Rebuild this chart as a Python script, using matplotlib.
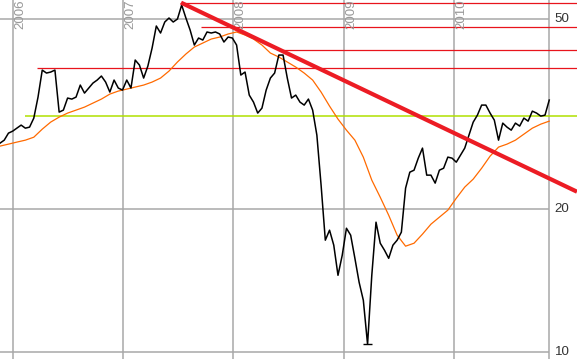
import numpy as np
import pandas as pd
import matplotlib
matplotlib.use("Agg")
import matplotlib.pyplot as plt

plt.rcParams['font.family'] = ['Liberation Sans', 'DejaVu Sans']

# closing price, sampled every 14 days
price_start = "2005-11-19"
price = [27.44, 27.84, 28.80, 29.08, 29.50, 29.94, 29.50, 29.65, 30.97, 34.28,
         39.06, 38.50, 38.69, 39.06, 31.88, 32.19, 34.12, 33.95, 34.28, 36.33,
         34.95, 35.81, 36.68, 37.22, 37.95, 36.86, 35.12, 37.22, 35.81, 35.46,
         37.22, 35.81, 41.00, 40.02, 37.58, 39.83, 43.45, 48.33, 46.72, 49.27,
         50.23, 49.27, 49.99, 53.49, 50.23, 47.40, 44.08, 45.60, 45.16, 46.95,
         46.72, 46.95, 46.50, 44.73, 45.82, 45.60, 44.08, 38.13, 38.69, 34.61,
         33.46, 31.73, 32.50, 35.46, 37.58, 38.50, 42.00, 42.00, 37.58, 34.12,
         34.61, 33.46, 32.98, 33.95, 32.19, 28.52, 22.40, 17.17, 18.02, 16.76,
         14.49, 15.96, 18.19, 17.59, 15.73, 14.01, 12.84, 10.38, 14.49, 18.73,
         16.92, 16.36, 15.73, 16.76, 17.17, 17.85, 22.08, 23.85, 24.08, 25.52,
         26.79, 23.51, 23.51, 22.62, 24.08, 24.31, 25.65, 25.52, 25.03, 25.89,
         26.79, 28.52, 30.37, 31.42, 32.98, 32.98, 31.73, 30.67, 27.84, 30.23,
         29.65, 29.22, 30.23, 29.80, 30.97, 30.52, 32.03, 31.73, 31.27, 31.42,
         33.79]

# moving average, sampled every 28 days
ma = [27.05, 27.31, 27.58, 27.84, 28.24, 29.36, 30.38, 31.12, 31.73, 32.19,
      32.66, 33.30, 33.95, 34.78, 35.29, 35.63, 35.98, 36.33, 36.86, 37.58,
      38.87, 40.61, 42.21, 43.66, 44.51, 45.38, 45.82, 46.50, 46.95, 46.27,
      45.38, 44.08, 42.41, 41.60, 40.61, 39.63, 38.50, 37.22, 35.12, 32.82,
      30.82, 29.22, 27.84, 25.64, 22.95, 21.13, 19.37, 17.59, 16.68, 16.92,
      17.68, 18.55, 19.19, 19.85, 21.03, 22.19, 23.06, 24.31, 25.77, 26.92,
      27.31, 27.84, 28.66, 29.50, 30.08, 30.52]

# resistance levels (value, start date)
res_levels = [54.1, 48.1, 43.0, 39.5]
res_starts = ["2007-07-08", "2007-09-16", "2008-05-31", "2006-03-22"]
support_level = 31.3
support_start = "2006-02-10"

# downtrend line through the 2007 top
trend_dates = ["2007-07-12", "2011-02-13"]
trend_vals = [54.1, 21.7]

years = [2006, 2007, 2008, 2009, 2010]
y_ticks = [50, 20, 10]

price_dates = pd.date_range(price_start, periods=len(price), freq="14D")
ma_dates = pd.date_range(price_start, periods=len(ma), freq="28D")
x_end = pd.Timestamp("2010-11-13")
x_right = pd.Timestamp("2011-02-13")

fig = plt.figure(figsize=(5.77, 3.59), dpi=100)
ax = fig.add_axes([0, 0, 1, 1])
ax.set_yscale("log")
ax.set_xlim(pd.Timestamp(price_start), x_right)
ax.set_ylim(9.67, 54.8)
ax.axis("off")

grid_c = "#a8a8a8"
for yr in years:
    d = pd.Timestamp(f"{yr}-01-01")
    ax.axvline(d, color=grid_c, lw=1.1, zorder=1)
    ax.text(d + pd.Timedelta(days=5), 54.9, str(yr), rotation=90, ha="left",
            va="top", fontsize=9.6, color="#999999")
ax.axvline(x_end, color=grid_c, lw=1.1, zorder=1)
ax.hlines(y_ticks, pd.Timestamp(price_start), x_end, color=grid_c, lw=1.1, zorder=1)
for v in y_ticks:
    ax.text(x_end + pd.Timedelta(days=18), v, str(v), ha="left", va="center",
            fontsize=9.6, color="#333333")

for v, s in zip(res_levels, res_starts):
    ax.hlines(v, pd.Timestamp(s), x_right, color="#e8141c", lw=0.9, zorder=2)
ax.hlines(support_level, pd.Timestamp(support_start), x_right, color="#b0e000",
          lw=1.1, zorder=2)

ax.plot(ma_dates, ma, color="#ff6a00", lw=0.9, zorder=3)
ax.plot(price_dates, price, color="black", lw=1.1, zorder=4)

# mark the low
i_min = int(np.argmin(price))
ax.hlines(price[i_min], price_dates[i_min] - pd.Timedelta(days=16),
          price_dates[i_min] + pd.Timedelta(days=16), color="black", lw=1.0, zorder=4)

ax.plot(pd.to_datetime(trend_dates), trend_vals, color="#ec1c24", lw=3.0,
        zorder=5, solid_capstyle="butt")

fig.savefig("out.png", dpi=100)
